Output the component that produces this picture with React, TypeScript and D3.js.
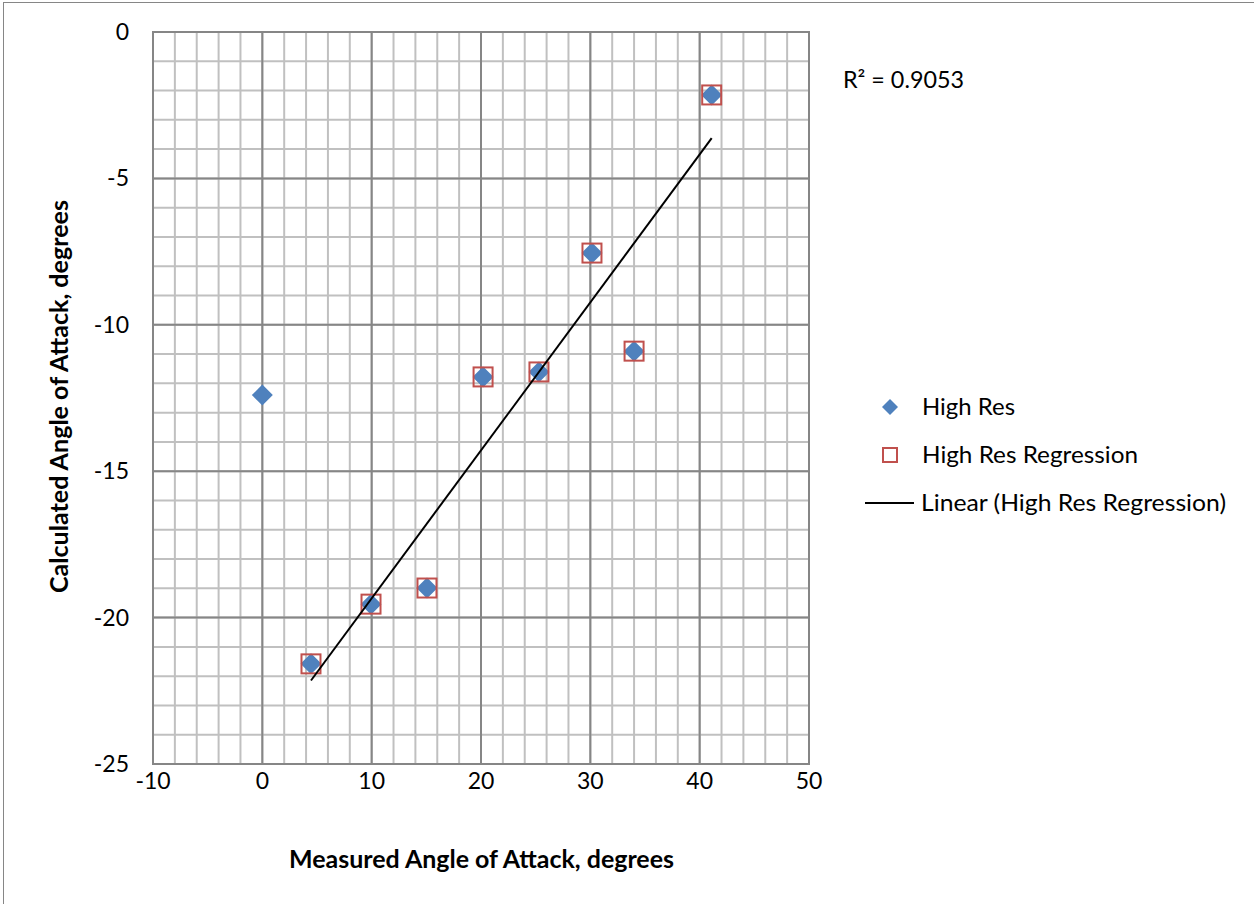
import React from "react";
import * as d3 from "d3";

const highResX = [0, 4.45, 9.94, 15.06, 20.19, 25.3, 30.15, 34.0, 41.1];
const highResY = [-12.4, -21.58, -19.54, -18.99, -11.78, -11.61, -7.55, -10.9, -2.15];
const regX = [4.45, 9.94, 15.06, 20.19, 25.3, 30.15, 34.0, 41.1];
const regY = [-21.58, -19.54, -18.99, -11.78, -11.61, -7.55, -10.9, -2.15];
const xTicks = [-10, 0, 10, 20, 30, 40, 50];
const yTicks = [0, -5, -10, -15, -20, -25];
const seriesNames = ["High Res", "High Res Regression", "Linear (High Res Regression)"];
const r2Label = "R² = 0.9053";

const W = 1254, H = 904;
const L = 153, R = 809, T = 32, B = 764;
const FONT = "Lato, 'Open Sans', sans-serif";

export default function App() {
  const x = d3.scaleLinear().domain([-10, 50]).range([L, R]);
  const y = d3.scaleLinear().domain([-25, 0]).range([B, T]);
  const minorX = d3.range(-10, 50.001, 2);
  const minorY = d3.range(-25, 0.001, 1);

  const mx = d3.mean(regX)!, my = d3.mean(regY)!;
  let sxy = 0, sxx = 0;
  regX.forEach((v, i) => { sxy += (v - mx) * (regY[i] - my); sxx += (v - mx) ** 2; });
  const slope = sxy / sxx, icpt = my - slope * mx;
  const x0 = d3.min(regX)!, x1 = d3.max(regX)!;
  const line = d3.line<number>().x((d) => x(d)).y((d) => y(slope * d + icpt));

  const diamond = (cx: number, cy: number, r: number) =>
    `M${cx},${cy - r}L${cx + r},${cy}L${cx},${cy + r}L${cx - r},${cy}Z`;

  return (
    <div style={{ position: "absolute", left: 0, top: 0 }}>
      <svg width={W} height={H} style={{ display: "block", background: "#fff" }}>
        <rect x={3.5} y={2.5} width={W + 10} height={H + 10} fill="#fff" stroke="#868686" strokeWidth={1} />
        {minorX.map((v) => (
          <line key={"mx" + v} x1={x(v)} x2={x(v)} y1={T} y2={B} stroke="#c0c0c0" strokeWidth={2} />
        ))}
        {minorY.map((v) => (
          <line key={"my" + v} x1={L} x2={R} y1={y(v)} y2={y(v)} stroke="#c0c0c0" strokeWidth={2} />
        ))}
        {xTicks.map((v) => (
          <line key={"Mx" + v} x1={x(v)} x2={x(v)} y1={T} y2={B} stroke="#868686" strokeWidth={2} />
        ))}
        {yTicks.map((v) => (
          <line key={"My" + v} x1={L} x2={R} y1={y(v)} y2={y(v)} stroke="#868686" strokeWidth={2} />
        ))}
        <rect x={L} y={T} width={R - L} height={B - T} fill="none" stroke="#868686" strokeWidth={2} />

        {xTicks.map((v) => (
          <text key={"xt" + v} x={x(v)} y={789} textAnchor="middle" fontFamily={FONT} fontSize={23} fill="#000">
            {v}
          </text>
        ))}
        {yTicks.map((v) => (
          <text key={"yt" + v} x={129} y={y(v) + 8} textAnchor="end" fontFamily={FONT} fontSize={23} fill="#000">
            {v}
          </text>
        ))}
        <text x={289} y={868} textLength={385} lengthAdjust="spacingAndGlyphs" fontFamily={FONT} fontSize={24} fontWeight="bold" fill="#000">
          Measured Angle of Attack, degrees
        </text>
        <text transform={`translate(68,593) rotate(-90)`} textLength={393} lengthAdjust="spacingAndGlyphs" fontFamily={FONT} fontSize={24} fontWeight="bold" fill="#000">
          Calculated Angle of Attack, degrees
        </text>

        {highResX.map((v, i) => (
          <path key={"d" + i} d={diamond(x(v), y(highResY[i]), 10.5)} fill="#4f81bd" />
        ))}
        {regX.map((v, i) => (
          <rect key={"s" + i} x={x(v) - 9.5} y={y(regY[i]) - 9.5} width={19} height={19} fill="none" stroke="#c0504d" strokeWidth={2} />
        ))}
        <path d={line([x0, x1]) || ""} fill="none" stroke="#000" strokeWidth={2} />

        <text x={843} y={88} textLength={121} lengthAdjust="spacingAndGlyphs" fontFamily={FONT} fontSize={24} fill="#000">{r2Label}</text>

        <path d={diamond(890, 407, 8)} fill="#4f81bd" />
        <text x={922} y={415} textLength={93} lengthAdjust="spacingAndGlyphs" fontFamily={FONT} fontSize={24} fill="#000">{seriesNames[0]}</text>
        <rect x={883} y={448} width={14} height={14} fill="none" stroke="#c0504d" strokeWidth={2} />
        <text x={922} y={463} textLength={216} lengthAdjust="spacingAndGlyphs" fontFamily={FONT} fontSize={24} fill="#000">{seriesNames[1]}</text>
        <line x1={865} x2={914} y1={503} y2={503} stroke="#000" strokeWidth={2} />
        <text x={921} y={511} textLength={305} lengthAdjust="spacingAndGlyphs" fontFamily={FONT} fontSize={24} fill="#000">{seriesNames[2]}</text>
      </svg>
    </div>
  );
}
